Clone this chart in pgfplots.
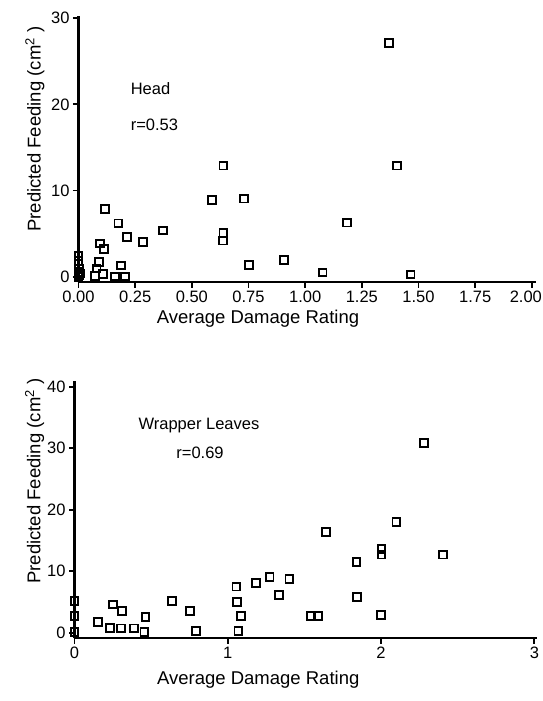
\documentclass[border=0pt]{standalone}
\usepackage{fontspec}
\setmainfont{Liberation Sans}
\usepackage{pgfplots}
\pgfplotsset{compat=1.18}

% Head: average damage rating vs predicted feeding
\pgfplotstableread{
x      y
0.000  2.40
0.000  1.80
0.000  0.60
0.000  0.00
0.004  0.20
0.006  0.40
0.003  0.90
0.073  0.08
0.080  0.97
0.089  1.70
0.095  3.86
0.107  0.30
0.111  3.24
0.116  7.90
0.161  0.04
0.176  6.20
0.187  1.31
0.206  0.04
0.213  4.60
0.283  4.00
0.374  5.37
0.590  8.90
0.636  4.20
0.639  5.06
0.639 12.90
0.731  9.07
0.751  1.39
0.906  1.97
1.077  0.50
1.186  6.29
1.371 27.08
1.406 12.90
1.465  0.27
}\headdata

% Wrapper leaves: average damage rating vs predicted feeding
\pgfplotstableread{
x      y
0.000  5.20
0.000  2.76
0.000  0.16
0.152  1.79
0.232  0.81
0.250  4.60
0.302  0.71
0.308  3.50
0.389  0.71
0.456  0.16
0.463  2.60
0.637  5.15
0.755  3.50
0.794  0.28
1.056  7.50
1.060  5.04
1.069  0.33
1.084  2.76
1.186  8.13
1.273  9.10
1.335  6.10
1.402  8.70
1.544  2.70
1.587  2.70
1.642 16.40
1.840 11.50
1.844  5.85
2.000  2.90
2.003 12.70
2.003 13.60
2.100 17.95
2.280 30.80
2.404 12.70
}\wrapdata

\tikzset{note/.style={anchor=base west, font=\fontsize{16.5bp}{18bp}\selectfont}}

\begin{document}
\begin{tikzpicture}
\useasboundingbox (0,0) rectangle (543bp,-701bp);
\pgfplotsset{
  damage/.style={
    scale only axis, clip=false,
    axis x line=bottom, axis y line=left,
    x axis line style={-, line width=2.1bp},
    y axis line style={-, line width=2.1bp},
    tick align=outside, major tick length=5.5bp,
    every tick/.style={line width=1.8bp, black},
    minor tick num=0,
    /pgf/number format/assume math mode=true,
    ticklabel style={font=\fontsize{16.5bp}{18bp}\selectfont},
    xlabel={Average Damage Rating},
    ylabel={Predicted Feeding (cm\textsuperscript{2} )},
    every axis x label/.style={anchor=center,
      font=\fontsize{18.5bp}{20bp}\selectfont},
    every axis y label/.style={anchor=center, rotate=90,
      font=\fontsize{18.5bp}{20bp}\selectfont},
  },
  feed/.style={only marks, mark=square,
    mark size=3.9bp, mark options={line width=1.9bp, black}},
}

\begin{axis}[damage,
  at={(78.5bp,-282bp)}, anchor=south west,
  width=457.9bp, height=266.5bp,
  xmin=0, xmax=2.02, ymin=-0.6, ymax=30.3,
  xtick={0,0.25,...,1.75},
  xticklabel style={/pgf/number format/fixed,
    /pgf/number format/fixed zerofill, /pgf/number format/precision=2},
  extra x ticks={2},
  extra x tick labels={2.00},
  extra x tick style={xticklabel style={xshift=-6bp}},
  ytick={0,10,20,30},
  every axis x label/.append style={at={(axis description cs:0.392,-0.138)}},
  every axis y label/.append style={at={(axis description cs:-0.095,0.574)}},
]
\addplot[feed] table {\headdata};
\node[note] at (axis cs:0.215,21.1) {Head};
\node[note] at (axis cs:0.215,17.0) {r=0.53};
\end{axis}

\begin{axis}[damage,
  at={(74.5bp,-638.3bp)}, anchor=south west,
  width=462.9bp, height=257.8bp,
  xmin=0, xmax=3.02, ymin=-0.9, ymax=41,
  xtick={0,1,2,3},
  ytick={0,10,20,30,40},
  every axis x label/.append style={at={(axis description cs:0.397,-0.162)}},
  every axis y label/.append style={at={(axis description cs:-0.086,0.610)}},
]
\addplot[feed] table {\wrapdata};
\node[note] at (axis cs:0.395,33.1) {Wrapper Leaves};
\node[note] at (axis cs:0.642,28.4) {r=0.69};
\end{axis}
\end{tikzpicture}
\end{document}
